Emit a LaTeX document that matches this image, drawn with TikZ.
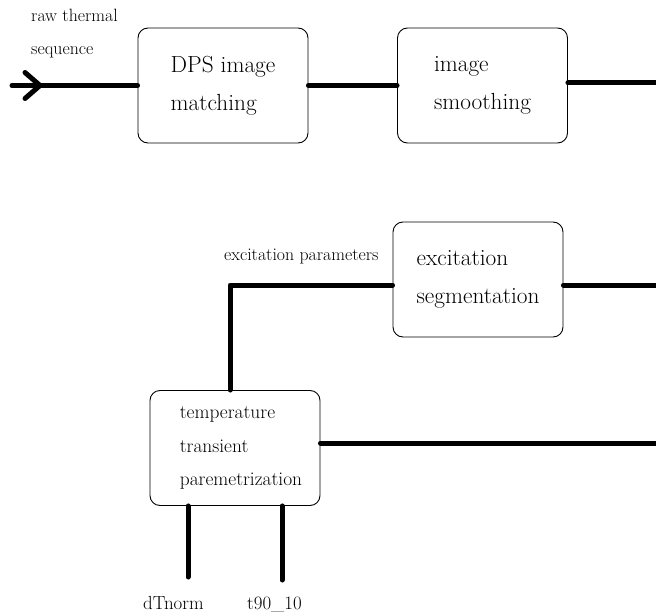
\documentclass[tikz,border=0pt]{standalone}
\usetikzlibrary{calc}
\begin{document}
\begin{tikzpicture}[x=1pt,y=-1pt,
  blockbox/.style={draw, line width=0.9pt, rounded corners=10pt, minimum width=170pt, minimum height=115pt, align=left, inner sep=0pt},
  bigtext/.style={font=\fontsize{23.3}{38.5}\selectfont},
  midtext/.style={font=\fontsize{19.4}{33.5}\selectfont},
  smalltext/.style={font=\fontsize{17.8}{33}\selectfont, align=left, inner sep=0pt},
  labtext/.style={font=\fontsize{18.9}{20}\selectfont, inner sep=0pt},
  wire/.style={line width=5pt, line cap=round, line join=round}]
\useasboundingbox (0,0) rectangle (656,615);

% blocks
\node[blockbox, bigtext] (dps) at (223,85.5) {DPS image\\matching};
\node[blockbox, bigtext] (smooth) at (482.5,85.5) {image\\smoothing};
\node[blockbox, bigtext] (exc) at (478,279.5) {excitation\\segmentation};
\node[blockbox, midtext] (temp) at (235,448) {\hspace*{12pt}temperature\\\hspace*{12pt}transient\\\hspace*{12pt}paremetrization};

% labels
\node[smalltext, anchor=west] (rawlab) at (31,34) {raw thermal\\sequence};
\node[smalltext, anchor=west] (exclab) at (224,256) {excitation parameters};
\node[labtext, anchor=west] (dtlab) at (143,603) {dTnorm};
\node[labtext, anchor=west] (t90lab) at (247,605) {t90\_10};

% free ends
\coordinate (in) at (12,85.5);
\coordinate (tip) at (40,85.5);
\coordinate (out1) at (660,83);
\coordinate (out2) at (660,285);
\coordinate (out3) at (660,443);
\coordinate (corner) at (230,285);
\coordinate (dtend) at (188,577);
\coordinate (t90end) at (282,580);

% wires
\draw[wire] (in) -- (dps.west);
\draw[wire] ($(tip)+(-15,-13)$) -- (tip) -- ($(tip)+(-15,13)$);
\draw[wire] (dps.east) -- (smooth.west |- dps.east);
\draw[wire] ([yshift=2.5pt]smooth.east) -- (out1);
\draw[wire] ([yshift=-5.5pt]exc.east) -- (out2);
\draw[wire] ([yshift=-5.5pt]exc.west) -- (corner) -- ([xshift=-5pt]temp.north);
\draw[wire] ([yshift=5pt]temp.east) -- (out3);
\draw[wire] ([xshift=-47pt]temp.south) -- (dtend);
\draw[wire] ([xshift=47pt]temp.south) -- (t90end);
\end{tikzpicture}
\end{document}
